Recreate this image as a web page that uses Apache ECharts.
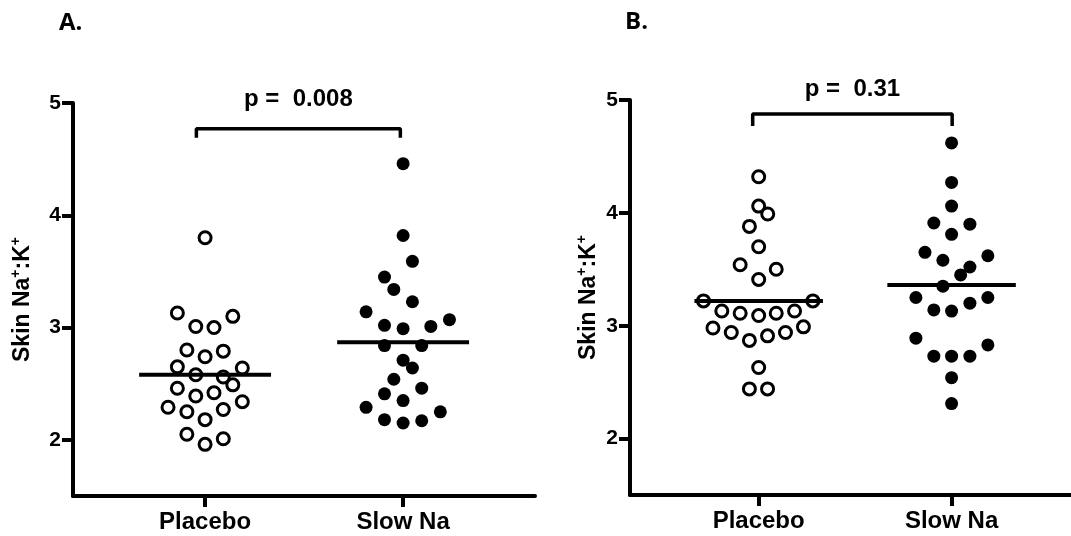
<!DOCTYPE html>
<html>
<head>
<meta charset="utf-8">
<style>
  html, body { margin: 0; padding: 0; background: #fff; }
  #chart { width: 1071px; height: 536px; }
</style>
<script src="https://cdn.jsdelivr.net/npm/echarts@6/dist/echarts.min.js"></script>
</head>
<body>
<div id="chart"></div>
<script>
var groups = ['Placebo', 'Slow Na'];
var yTicks = [2, 3, 4, 5];
var xTicks = [1, 2];

// panel A values + horizontal swarm offsets (category units)
var placeboA = [3.80, 3.13, 3.01, 3.00, 3.10, 2.80, 2.74, 2.79, 2.65, 2.58, 2.56, 2.64,
                2.49, 2.46, 2.39, 2.42, 2.29, 2.25, 2.18, 2.27, 2.34, 2.05, 1.96, 2.01];
var placeboAOff = [0, -0.14, -0.047, 0.045, 0.14, -0.092, 0, 0.092, -0.14, -0.047, 0.092, 0.188,
                   0.14, -0.14, -0.047, 0.045, -0.187, -0.092, 0, 0.092, 0.188, -0.092, 0, 0.092];
var slowA = [4.46, 3.82, 3.59, 3.45, 3.34, 3.23, 3.14, 3.02, 2.99, 3.01, 3.07, 2.84,
             2.84, 2.71, 2.64, 2.54, 2.46, 2.41, 2.35, 2.29, 2.25, 2.18, 2.15, 2.17];
var slowAOff = [0, 0, 0.047, -0.094, -0.047, 0.047, -0.187, -0.094, 0, 0.14, 0.234, -0.094,
                0.094, 0, 0.047, -0.047, 0.094, -0.094, 0, -0.187, 0.188, -0.094, 0, 0.094];
var meanA = [2.58, 2.87];
var bracketAX = [0.956, 1.986];
var bracketAY = [4.69, 4.77];
var pTextA = 'p =  0.008';

// panel B
var placeboB = [4.32, 4.06, 3.99, 3.88, 3.70, 3.54, 3.50, 3.41, 3.22, 3.22, 3.13, 3.11,
                3.09, 3.11, 3.13, 2.98, 2.94, 2.87, 2.91, 2.94, 2.99, 2.63, 2.44, 2.44];
var placeboBOff = [0, 0, 0.047, -0.048, 0, -0.096, 0.091, 0, -0.286, 0.281, -0.191, -0.096,
                   0, 0.091, 0.186, -0.237, -0.142, -0.048, 0.046, 0.139, 0.232, 0, -0.048, 0.046];
var slowB = [4.62, 4.27, 4.06, 3.91, 3.90, 3.81, 3.65, 3.58, 3.62, 3.52, 3.45, 3.35,
             3.25, 3.25, 3.20, 3.14, 3.13, 2.89, 2.83, 2.73, 2.73, 2.73, 2.54, 2.31];
var slowBOff = [0, 0, 0, -0.092, 0.095, 0, -0.138, -0.045, 0.188, 0.095, 0.047, -0.045,
                -0.185, 0.188, 0.095, -0.092, 0, -0.185, 0.188, -0.092, 0, 0.095, 0, 0];
var meanB = [3.22, 3.36];
var bracketBX = [0.969, 2.003];
var bracketBY = [4.77, 4.876];
var pTextB = 'p =  0.31';

var font = "'Liberation Sans', Arial, sans-serif";

function swarm(vals, offs, center) {
    return vals.map(function(v, i) { return [center + offs[i], v]; });
}

function panelSeries(idx, placebo, placeboOff, slow, slowOff, means, bx, by, pText, pDist) {
    var s = [];
    s.push({
        type: 'scatter', xAxisIndex: idx, yAxisIndex: idx,
        data: swarm(placebo, placeboOff, 1),
        symbolSize: 12,
        itemStyle: { color: '#fff', borderColor: '#000', borderWidth: 3, opacity: 1 },
        z: 3
    });
    s.push({
        type: 'scatter', xAxisIndex: idx, yAxisIndex: idx,
        data: swarm(slow, slowOff, 2),
        symbolSize: 13,
        itemStyle: { color: '#000', opacity: 1 },
        z: 3
    });
    means.forEach(function(m, i) {
        s.push({
            type: 'line', xAxisIndex: idx, yAxisIndex: idx,
            data: [[i + 1 - 0.333, m], [i + 1 + 0.333, m]],
            symbol: 'none',
            lineStyle: { color: '#000', width: 4 },
            z: 4
        });
    });
    s.push({
        type: 'line', xAxisIndex: idx, yAxisIndex: idx,
        data: [[bx[0], by[0]], [bx[0], by[1]], [bx[1], by[1]], [bx[1], by[0]]],
        symbol: 'none',
        lineStyle: { color: '#000', width: 3.5 },
        clip: false,
        z: 4
    });
    s.push({
        type: 'scatter', xAxisIndex: idx, yAxisIndex: idx,
        data: [[(bx[0] + bx[1]) / 2, by[1]]],
        symbolSize: 0,
        itemStyle: { opacity: 1 },
        label: {
            show: true, position: 'top', distance: pDist,
            formatter: pText,
            fontFamily: font, fontWeight: 'bold', fontSize: 24, color: '#000', opacity: 1
        },
        clip: false
    });
    return s;
}

function yAxis(idx, gap) {
    return {
        type: 'value', gridIndex: idx, min: 1.5, max: 5,
        name: '{n|Skin Na}{s|+}{n|:K}{s|+}',
        nameLocation: 'middle', nameGap: gap,
        nameTextStyle: {
            rich: {
                n: { fontFamily: font, fontWeight: 'bold', fontSize: 23, color: '#000', lineHeight: 28 },
                s: { fontFamily: font, fontWeight: 'bold', fontSize: 14, color: '#000', lineHeight: 14, verticalAlign: 'top' }
            }
        },
        splitLine: { show: false },
        axisLine: { show: true, lineStyle: { color: '#000', width: 4 } },
        axisTick: { show: true, customValues: yTicks, length: 11, lineStyle: { color: '#000', width: 4 } },
        axisLabel: {
            customValues: yTicks, margin: 12,
            fontFamily: font, fontWeight: 'bold', fontSize: 21, color: '#000'
        }
    };
}

function xAxis(idx, max) {
    return {
        type: 'value', gridIndex: idx, min: 0.333, max: max,
        splitLine: { show: false },
        axisLine: { show: true, onZero: false, lineStyle: { color: '#000', width: 4 } },
        axisTick: { show: true, customValues: xTicks, length: 11, lineStyle: { color: '#000', width: 4 } },
        axisLabel: {
            customValues: xTicks, margin: 14,
            formatter: function(v) { return groups[Math.round(v) - 1]; },
            fontFamily: font, fontWeight: 'bold', fontSize: 24, color: '#000'
        }
    };
}

var chart = echarts.init(document.getElementById('chart'), null, { renderer: 'canvas' });

var panelTitle = { fontFamily: "'Open Sans', sans-serif", fontWeight: 'bold', fontSize: 24, color: '#000' };

var option = {
    animation: false,
    backgroundColor: '#fff',
    title: [
        { text: 'A.', left: 59, top: 11, padding: 0, textStyle: panelTitle },
        { text: 'B.', left: 625, top: 10, padding: 0, textStyle: panelTitle }
    ],
    grid: [
        { left: 73, top: 103, width: 462, height: 393 },
        { left: 630, top: 100, width: 441, height: 395 }
    ],
    xAxis: [xAxis(0, 2.666), xAxis(1, 2.619)],
    yAxis: [yAxis(0, 36), yAxis(1, 27)],
    series: panelSeries(0, placeboA, placeboAOff, slowA, slowAOff, meanA, bracketAX, bracketAY, pTextA, 17)
        .concat(panelSeries(1, placeboB, placeboBOff, slowB, slowBOff, meanB, bracketBX, bracketBY, pTextB, 13))
};

chart.setOption(option);
</script>
</body>
</html>
